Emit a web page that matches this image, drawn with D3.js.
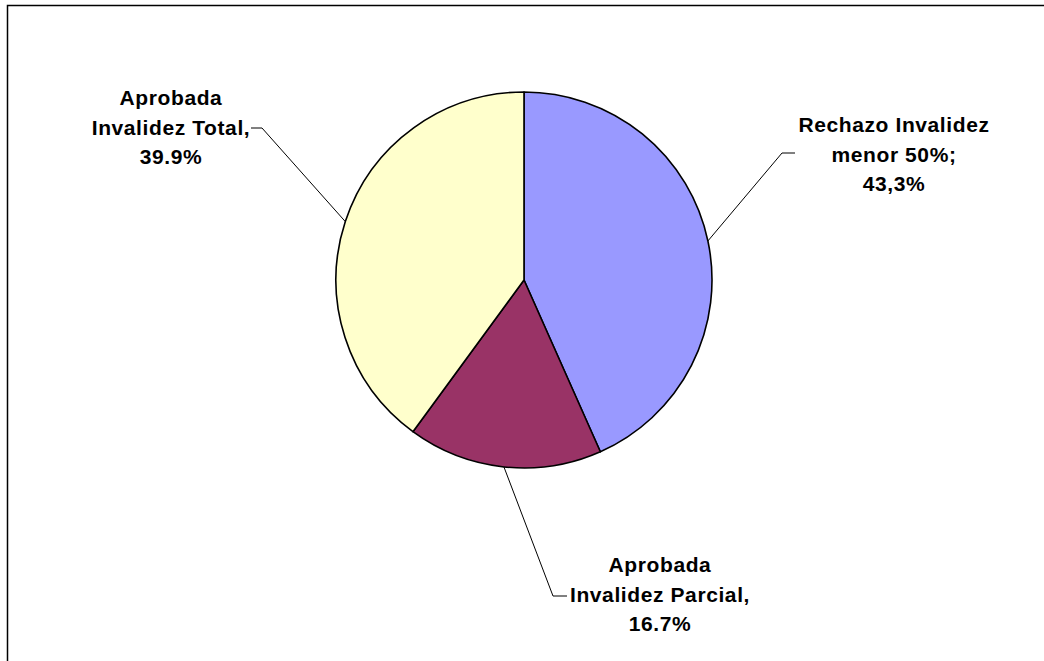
<!DOCTYPE html>
<html>
<head>
<meta charset="utf-8">
<script src="https://cdn.jsdelivr.net/npm/d3@7"></script>
<style>
  body { margin: 0; background: #fff; }
  svg { display: block; }
  .lbl { font-family: "Liberation Sans", Arial, sans-serif; font-weight: bold; font-size: 21px; letter-spacing: 0.6px; fill: #000; }
</style>
</head>
<body>
<svg width="1044" height="661"></svg>
<script>
// data, clockwise from 12 o'clock
var categories = ["Rechazo Invalidez menor 50%", "Aprobada Invalidez Parcial", "Aprobada Invalidez Total"];
var values = [43.3, 16.7, 39.9];
var labelLines = [
    ["Rechazo Invalidez", "menor 50%;", "43,3%"],
    ["Aprobada", "Invalidez Parcial,", "16.7%"],
    ["Aprobada", "Invalidez Total,", "39.9%"]
];
var colors = ["#9999FF", "#993366", "#FFFFCC"];

window.onload = main;

function main() {
    var svg = d3.select("svg");

    // outer chart frame (runs past the window on right/bottom)
    svg.append("rect")
        .attr("x", 7.5).attr("y", 5.5)
        .attr("width", 1200).attr("height", 1000)
        .attr("fill", "#fff")
        .attr("stroke", "#000")
        .attr("stroke-width", 1.5);

    var cx = 524, cy = 280, r = 188;

    var pie = d3.pie().sort(null).value((d) => d);
    var arcs = pie(values);
    var arc = d3.arc().innerRadius(0).outerRadius(r);

    var g = svg.append("g").attr("transform", "translate(" + cx + "," + cy + ")");

    g.selectAll("path.slice")
        .data(arcs)
        .enter()
        .append("path")
        .attr("class", "slice")
        .attr("d", arc)
        .attr("fill", (d, i) => colors[i])
        .attr("stroke", "#000")
        .attr("stroke-width", 1.6)
        .attr("stroke-linejoin", "round");

    // label placement (centre x, first baseline) and leader elbow
    var labelPos = [
        { x: 894, y: 132, elbow: [782, 153], end: [795, 153] },
        { x: 660, y: 572, elbow: [553, 596], end: [567, 596] },
        { x: 171, y: 105, elbow: [262, 128], end: [251, 128] }
    ];

    arcs.forEach(function (d, i) {
        var a = (d.startAngle + d.endAngle) / 2;
        var sx = cx + r * Math.sin(a),
            sy = cy - r * Math.cos(a);
        var p = labelPos[i];

        svg.append("polyline")
            .attr("points", [[sx, sy], p.elbow, p.end].map((q) => q.join(",")).join(" "))
            .attr("fill", "none")
            .attr("stroke", "#000")
            .attr("stroke-width", 1);

        var t = svg.append("text")
            .attr("class", "lbl")
            .attr("text-anchor", "middle");
        labelLines[i].forEach(function (line, k) {
            t.append("tspan")
                .attr("x", p.x)
                .attr("y", p.y + k * 29.5)
                .text(line);
        });
    });
}
</script>
</body>
</html>
